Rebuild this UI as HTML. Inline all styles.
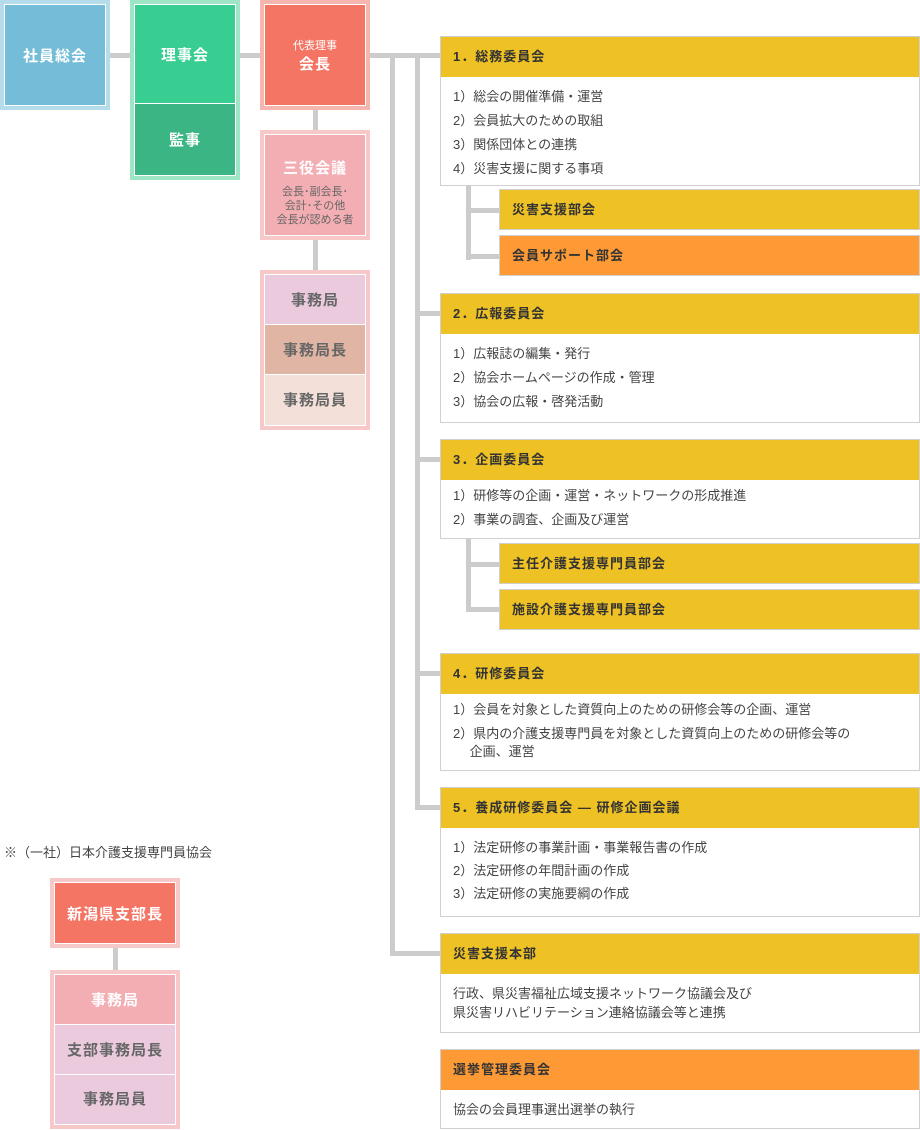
<!DOCTYPE html>
<html><head><meta charset="utf-8"><style>
*{margin:0;padding:0;box-sizing:border-box}
body{width:920px;height:1130px;background:#fff;position:relative;overflow:hidden;font-family:"Liberation Sans","Noto Sans CJK JP",sans-serif;color:#444}
.a{position:absolute}
.ln{position:absolute;background:#cccccc}
.fr{position:absolute;padding:4px;}
.fr>div{width:100%;border:1px solid #fff}
.c{display:flex;align-items:center;justify-content:center;flex-direction:column;font-weight:bold;font-size:15px;color:#fff;letter-spacing:1px;text-align:center}
.cm{position:absolute;left:440px;width:480px;border:1px solid #d0d0d0;background:#fff}
.cm .h{height:40px;background:#eec124;font-size:13px;font-weight:bold;color:#333;padding-left:12px;line-height:40px;letter-spacing:1px}
.cm .b{font-size:13px;color:#444;padding:8px 12px 0 12px;line-height:24px}
.sub{position:absolute;left:499px;width:421px;height:41px;border:1px solid #d0d0d0;background:#eec124;font-size:13px;font-weight:bold;color:#333;padding-left:12px;line-height:39px;letter-spacing:1px}
</style></head><body>
<div class="ln" style="left:110px;top:53px;width:20px;height:5px"></div>
<div class="ln" style="left:240px;top:53px;width:20px;height:5px"></div>
<div class="ln" style="left:370px;top:53px;width:70px;height:5px"></div>
<div class="ln" style="left:313px;top:110px;width:5px;height:20px"></div>
<div class="ln" style="left:313px;top:240px;width:5px;height:30px"></div>
<div class="ln" style="left:390px;top:55px;width:5px;height:900px"></div>
<div class="ln" style="left:390px;top:951px;width:50px;height:5px"></div>
<div class="ln" style="left:415px;top:55px;width:5px;height:755px"></div>
<div class="ln" style="left:415px;top:311px;width:25px;height:5px"></div>
<div class="ln" style="left:415px;top:457px;width:25px;height:5px"></div>
<div class="ln" style="left:415px;top:671px;width:25px;height:5px"></div>
<div class="ln" style="left:415px;top:805px;width:25px;height:5px"></div>
<div class="ln" style="left:466px;top:185px;width:5px;height:75px"></div>
<div class="ln" style="left:466px;top:208px;width:33px;height:5px"></div>
<div class="ln" style="left:466px;top:254px;width:33px;height:5px"></div>
<div class="ln" style="left:466px;top:538px;width:5px;height:74px"></div>
<div class="ln" style="left:466px;top:562px;width:33px;height:5px"></div>
<div class="ln" style="left:466px;top:607px;width:33px;height:5px"></div>
<div class="ln" style="left:113px;top:948px;width:5px;height:22px"></div>

<div class="fr" style="left:0;top:0;width:110px;height:110px;background:#b4dcea"><div class="c" style="height:100%;background:#74bcd8">社員総会</div></div>
<div class="fr" style="left:130px;top:0;width:110px;height:180px;background:#9ee5c5"><div style="height:100%;background:#3bb583">
<div class="c" style="height:99px;background:#38cd91;border-bottom:1px solid #fff">理事会</div>
<div class="c" style="height:70px">監事</div></div></div>
<div class="fr" style="left:260px;top:0;width:110px;height:110px;background:#f6b6b0"><div class="c" style="height:100%;background:#f47564"><span style="font-size:11px;font-weight:normal;letter-spacing:0">代表理事</span><span>会長</span></div></div>
<div class="fr" style="left:260px;top:130px;width:110px;height:110px;background:#f6c8c8"><div class="c" style="height:100%;background:#f3aeb3;justify-content:flex-start;padding-top:22px"><span>三役会議</span><span style="font-size:11px;font-weight:normal;color:#666;line-height:14px;margin-top:7px;letter-spacing:0;text-align:center">会長･副会長･<br>会計･その他<br>会長が認める者</span></div></div>
<div class="fr" style="left:260px;top:270px;width:110px;height:160px;background:#f6c8c8"><div style="height:100%;background:#f3e0d9">
<div class="c" style="height:50px;background:#ebcadd;color:#666;border-bottom:1px solid #fff">事務局</div>
<div class="c" style="height:50px;background:#e0b5a3;color:#666;border-bottom:1px solid #fff">事務局長</div>
<div class="c" style="height:48px;color:#666">事務局員</div></div></div>

<div class="a" style="left:4px;top:842px;font-size:13px;color:#444">※（一社）日本介護支援専門員協会</div>
<div class="fr" style="left:50px;top:878px;width:130px;height:70px;background:#f6c8c8"><div class="c" style="height:100%;background:#f47564">新潟県支部長</div></div>
<div class="fr" style="left:50px;top:970px;width:130px;height:159px;background:#f6c8c8"><div style="height:100%;background:#ebcadd">
<div class="c" style="height:50px;background:#f3aeb3;border-bottom:1px solid #fff">事務局</div>
<div class="c" style="height:50px;color:#666;border-bottom:1px solid #fff">支部事務局長</div>
<div class="c" style="height:47px;color:#666">事務局員</div></div></div>

<div class="cm" style="top:36px;height:150px"><div class="h">1．総務委員会</div><div class="b">1）総会の開催準備・運営<br>2）会員拡大のための取組<br>3）関係団体との連携<br>4）災害支援に関する事項</div></div>
<div class="sub" style="top:189px">災害支援部会</div>
<div class="sub" style="top:235px;background:#fd9a36">会員サポート部会</div>

<div class="cm" style="top:293px;height:130px"><div class="h">2．広報委員会</div><div class="b">1）広報誌の編集・発行<br>2）協会ホームページの作成・管理<br>3）協会の広報・啓発活動</div></div>

<div class="cm" style="top:439px;height:100px"><div class="h">3．企画委員会</div><div class="b" style="padding-top:4px">1）研修等の企画・運営・ネットワークの形成推進<br>2）事業の調査、企画及び運営</div></div>
<div class="sub" style="top:543px">主任介護支援専門員部会</div>
<div class="sub" style="top:589px">施設介護支援専門員部会</div>

<div class="cm" style="top:653px;height:118px"><div class="h">4．研修委員会</div><div class="b" style="padding-top:7px;line-height:18px">1）会員を対象とした資質向上のための研修会等の企画、運営<div style="height:6px"></div>2）県内の介護支援専門員を対象とした資質向上のための研修会等の<br>&emsp;&nbsp;企画、運営</div></div>

<div class="cm" style="top:787px;height:130px"><div class="h">5．養成研修委員会 ― 研修企画会議</div><div class="b" style="line-height:23px">1）法定研修の事業計画・事業報告書の作成<br>2）法定研修の年間計画の作成<br>3）法定研修の実施要綱の作成</div></div>

<div class="cm" style="top:933px;height:100px"><div class="h">災害支援本部</div><div class="b" style="padding-top:10px;line-height:19px">行政、県災害福祉広域支援ネットワーク協議会及び<br>県災害リハビリテーション連絡協議会等と連携</div></div>

<div class="cm" style="top:1049px;height:80px"><div class="h" style="background:#fd9a36">選挙管理委員会</div><div class="b">協会の会員理事選出選挙の執行</div></div>
</body></html>
